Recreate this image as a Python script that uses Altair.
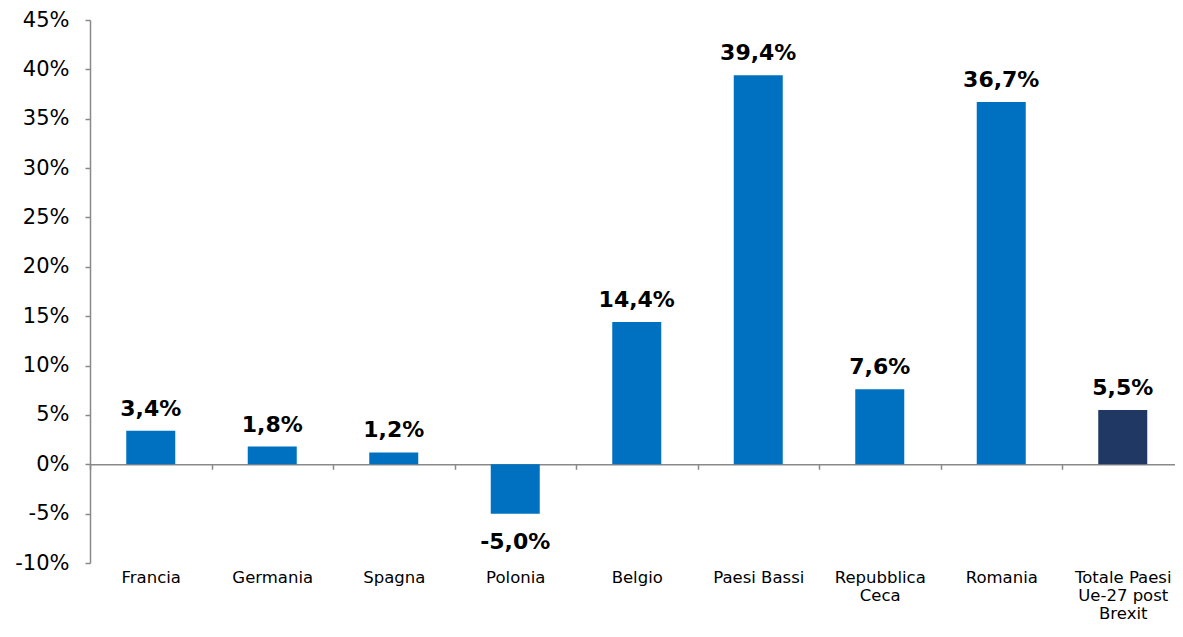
import json
import altair as alt
import pandas as pd

# --- data ---
paesi = [
    "Francia", "Germania", "Spagna", "Polonia", "Belgio",
    "Paesi Bassi", "Repubblica Ceca", "Romania",
    "Totale Paesi Ue-27 post Brexit",
]
variazioni = [3.4, 1.8, 1.2, -5.0, 14.4, 39.4, 7.6, 36.7, 5.5]
righe_etichetta = {
    "Repubblica Ceca": ["Repubblica", "Ceca"],
    "Totale Paesi Ue-27 post Brexit": ["Totale Paesi", "Ue-27 post", "Brexit"],
}
tick_y = [-10, -5, 0, 5, 10, 15, 20, 25, 30, 35, 40, 45]
totale = "Totale Paesi Ue-27 post Brexit"

df = pd.DataFrame({"pos": list(range(len(paesi))), "paese": paesi, "valore": variazioni})

FONT = "DejaVu Sans"
GRAY = "#898989"
BLUE = "#0070C0"
NAVY = "#1F3864"
W, H = 1085, 543
STEP = 121.5                       # pixel width of one category slot
X_MIN = -0.5
X_MAX = X_MIN + W / STEP           # the last slot runs to the page edge, as in the reference
Y_MIN, Y_MAX = -10, 45
ZERO_OFFSET = -(H - H * Y_MAX / (Y_MAX - Y_MIN))

linee = [righe_etichetta.get(p, [p]) for p in paesi]
label_expr = f"{json.dumps(linee)}[round(datum.value)]"
confini = [i - 0.5 for i in range(len(paesi))]

x_scale = alt.Scale(domain=[X_MIN, X_MAX], nice=False, zero=False, padding=0)
y_enc = alt.Y(
    "valore:Q",
    scale=alt.Scale(domain=[Y_MIN, Y_MAX], nice=False, zero=False, padding=0),
    axis=alt.Axis(
        values=tick_y, labelExpr="datum.value + '%'", title=None, grid=False,
        domainColor=GRAY, domainWidth=1.5, tickColor=GRAY, tickWidth=1.5, tickSize=5,
        labelPadding=16, labelFontSize=21, labelColor="#000000", labelFont=FONT,
    ),
)

base = alt.Chart(df).transform_calculate(
    testo="(datum.valore < 0 ? '-' : '') + replace(format(abs(datum.valore), '.1f'), '.', ',') + '%'"
)

bars = base.mark_bar(size=49).encode(
    x=alt.X(
        "pos:Q", scale=x_scale,
        axis=alt.Axis(
            orient="bottom", offset=ZERO_OFFSET, labels=False, title=None,
            values=confini,
            domain=True, domainColor=GRAY, domainWidth=1.5,
            ticks=True, tickColor=GRAY, tickSize=5, tickWidth=1.5,
            grid=False,
        ),
    ),
    y=y_enc,
    color=alt.condition(alt.datum.paese == totale, alt.value(NAVY), alt.value(BLUE)),
)

pos_text = base.transform_filter(alt.datum.valore >= 0).mark_text(
    font=FONT, fontSize=22, fontWeight="bold", baseline="alphabetic", dy=-15, color="#000000"
).encode(
    x=alt.X(
        "pos:Q", scale=x_scale,
        axis=alt.Axis(
            orient="bottom", domain=False, ticks=False, tickSize=0, labelPadding=6,
            values=list(range(len(paesi))),
            labelFontSize=16.5, labelFont=FONT, labelColor="#000000", labelAngle=0,
            labelAlign="center", labelFlush=False, labelOverlap=False, labelBound=False,
            labelExpr=label_expr, labelLineHeight=18, title=None, grid=False,
        ),
    ),
    y=y_enc,
    text="testo:N",
)

neg_text = base.transform_filter(alt.datum.valore < 0).mark_text(
    font=FONT, fontSize=22, fontWeight="bold", baseline="alphabetic", dy=35, color="#000000"
).encode(
    x=alt.X("pos:Q", scale=x_scale, axis=None),
    y=y_enc,
    text="testo:N",
)

chart = (
    alt.layer(bars, pos_text, neg_text)
    .resolve_axis(x="independent")
    .properties(
        width=W, height=H,
        autosize=alt.AutoSizeParams(type="none"),
        padding={"left": 82, "top": 12, "right": 0, "bottom": 61},
        background="white",
    )
    .configure_view(stroke=None)
)

chart.save("out.html", embed_options={"renderer": "svg", "actions": False})
